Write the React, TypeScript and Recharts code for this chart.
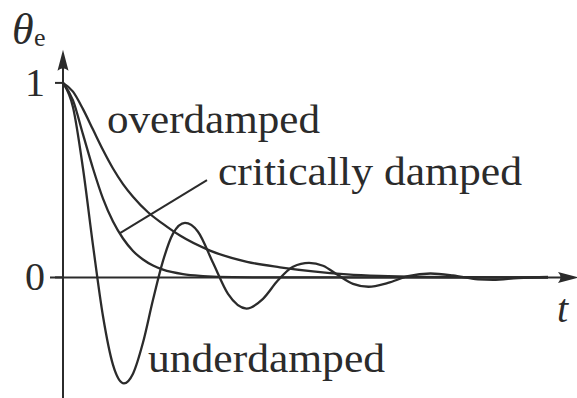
import React from 'react';
import { LineChart, Line, XAxis, YAxis, ReferenceLine, ReferenceDot } from 'recharts';

// time samples and responses for the three damping cases
const underT = [0, 0.2, 0.4, 0.6, 0.8, 1.0, 1.22, 1.4, 1.6, 1.8, 2.0, 2.2, 2.44, 2.7, 3.0, 3.3, 3.67, 4.0, 4.3, 4.6, 4.92, 5.2, 5.5, 5.8, 6.11, 6.5, 6.9, 7.35, 7.8, 8.3, 8.6, 9.1, 9.7];
const underV = [1, 0.875, 0.56, 0.165, -0.2, -0.45, -0.545, -0.495, -0.335, -0.115, 0.085, 0.225, 0.28, 0.235, 0.075, -0.085, -0.16, -0.11, -0.015, 0.055, 0.075, 0.06, 0.012, -0.033, -0.048, -0.028, 0.006, 0.02, 0.01, -0.01, -0.012, -0.003, 0.002];

const critT = [0, 0.2, 0.4, 0.6, 0.8, 1.0, 1.2, 1.4, 1.6, 1.8, 2.0, 2.4, 2.8, 3.4, 4.5, 6, 8, 9.7];
const critV = [1, 0.91, 0.735, 0.56, 0.405, 0.287, 0.2, 0.136, 0.092, 0.061, 0.04, 0.017, 0.007, 0.001, 0, 0, 0, 0];

const overT = [0, 0.2, 0.4, 0.6, 0.8, 1.0, 1.2, 1.4, 1.7, 2.0, 2.34, 2.94, 3.68, 4.34, 5.0, 5.68, 6.34, 7.2, 8.2, 9.7];
const overV = [1, 0.955, 0.865, 0.76, 0.655, 0.56, 0.48, 0.415, 0.335, 0.275, 0.215, 0.138, 0.08, 0.052, 0.031, 0.016, 0.008, 0.003, 0.001, 0];

const yTicks = [0, 1];

const toRows = (ts: number[], vs: number[]) => ts.map((t, i) => ({ t, v: vs[i] }));

const ink = '#2b2b2b';
const font = '"Liberation Serif", "Times New Roman", serif';

const ArrowUp = ({ cx, cy }: any) => (
  <path d={`M${cx},${cy} L${cx + 5.5},${cy + 21} Q${cx},${cy + 16} ${cx - 5.5},${cy + 21} Z`} fill={ink} />
);

const ArrowRight = ({ cx, cy }: any) => (
  <path d={`M${cx},${cy} L${cx - 21},${cy - 5.5} Q${cx - 16},${cy} ${cx - 21},${cy + 5.5} Z`} fill={ink} />
);

const YTick = ({ y, payload }: any) => (
  <text x={35} y={y + 13} textAnchor="middle" fontFamily={font} fontSize={40} fill={ink}>
    {payload.value}
  </text>
);

export default function App() {
  return (
    <div style={{ position: 'absolute', left: 0, top: 0, width: 577, height: 398, background: '#fff' }}>
      <LineChart width={577} height={398} margin={{ top: 44, right: 0, bottom: 0, left: 0 }}>
        <XAxis type="number" dataKey="t" domain={[0, 10.28]} hide allowDataOverflow />
        <YAxis
          type="number"
          domain={[-0.62, 1.2]}
          width={63}
          ticks={yTicks}
          axisLine={false}
          tickSize={8}
          tickLine={{ stroke: ink, strokeWidth: 2 }}
          tick={<YTick />}
          allowDataOverflow
        />
        <ReferenceLine segment={[{ x: -0.26, y: 0 }, { x: 10.1, y: 0 }]} stroke={ink} strokeWidth={2} ifOverflow="visible" />
        <ReferenceLine segment={[{ x: 0, y: -0.62 }, { x: 0, y: 1.1 }]} stroke={ink} strokeWidth={2} ifOverflow="visible" />
        <ReferenceDot x={10.32} y={0} ifOverflow="visible" shape={<ArrowRight />} />
        <ReferenceDot x={0} y={1.17} ifOverflow="visible" shape={<ArrowUp />} />
        {/* pointer from the label to the critically damped curve */}
        <ReferenceLine segment={[{ x: 1.14, y: 0.228 }, { x: 2.88, y: 0.5 }]} stroke={ink} strokeWidth={2} ifOverflow="visible" />
        <Line data={toRows(overT, overV)} dataKey="v" type="monotone" stroke={ink} strokeWidth={2.3} dot={false} isAnimationActive={false} />
        <Line data={toRows(critT, critV)} dataKey="v" type="monotone" stroke={ink} strokeWidth={2.3} dot={false} isAnimationActive={false} />
        <Line data={toRows(underT, underV)} dataKey="v" type="monotone" stroke={ink} strokeWidth={2.3} dot={false} isAnimationActive={false} />
      </LineChart>
      <svg width={577} height={398} style={{ position: 'absolute', left: 0, top: 0, pointerEvents: 'none' }}>
        <g fontFamily={font} fill={ink}>
          <text x={12} y={44} fontSize={44} fontStyle="italic">θ</text>
          <text x={34} y={46} fontSize={26}>e</text>
          <text x={107} y={133} fontSize={40} textLength={213} lengthAdjust="spacingAndGlyphs">overdamped</text>
          <text x={218} y={185} fontSize={40} textLength={304} lengthAdjust="spacingAndGlyphs">critically damped</text>
          <text x={148} y={372} fontSize={40} textLength={237} lengthAdjust="spacingAndGlyphs">underdamped</text>
          <text x={557} y={322} fontSize={40} fontStyle="italic">t</text>
        </g>
      </svg>
    </div>
  );
}
